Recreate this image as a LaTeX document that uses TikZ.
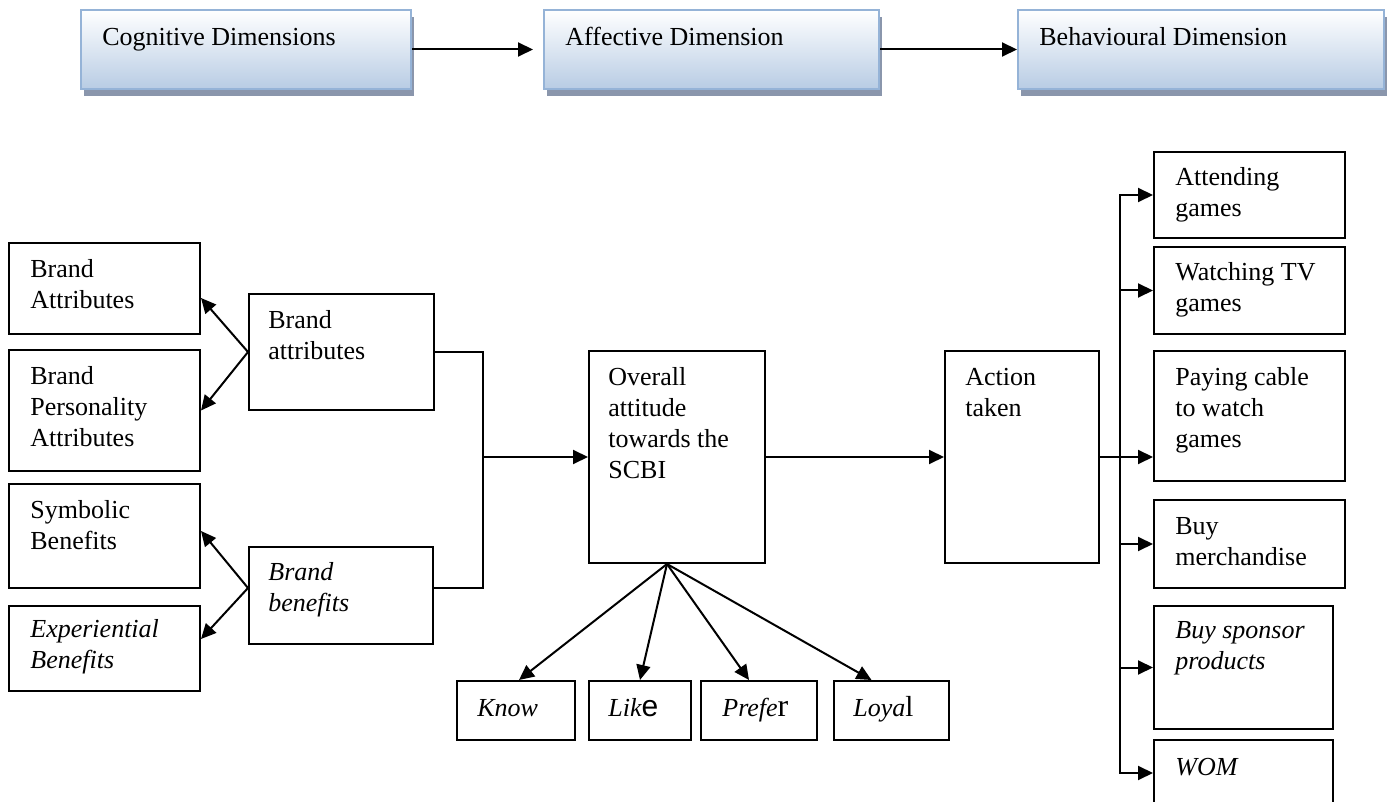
\documentclass[tikz,border=0pt]{standalone}
\usepackage{fontspec}
\setmainfont{Liberation Serif}
\newfontfamily\likesans{Liberation Sans}
\usetikzlibrary{positioning,arrows.meta,shadows}
\definecolor{dimBorder}{RGB}{149,179,215}
\definecolor{dimFill}{RGB}{184,204,228}
\definecolor{dimShadow}{RGB}{138,150,172}

\begin{document}
\begin{tikzpicture}[x=0.5pt, y=-0.5pt,
      box/.style={rectangle, draw, line width=1pt, anchor=north west, inner sep=0pt},
      dimbox/.style={rectangle, draw=dimBorder, line width=1pt, top color=white,
                     bottom color=dimFill, anchor=north west, inner sep=0pt,
                     minimum height=39.5pt,
                     drop shadow={shadow xshift=1.5pt, shadow yshift=-3.5pt,
                                  fill=dimShadow, opacity=1}},
      txt/.style={align=left, inner sep=0pt, font=\fontsize{13pt}{15.5pt}\selectfont},
      itxt/.style={txt, font=\fontsize{13pt}{15.5pt}\selectfont\itshape},
      arr/.style={-{Triangle[length=7.5pt,width=7pt]}, line width=1pt},
      link/.style={line width=1pt}]
      \useasboundingbox (0,0) rectangle (1389,802);
      \fill[white] (0,0) rectangle (1389,802);
      \clip (0,0) rectangle (1389,802);

      % dimensions
      \node[dimbox, minimum width=165pt] (cog) at (80,9) {};
      \node[txt, below right=7pt and 11pt of cog.north west] (cogtxt) {\strut Cognitive Dimensions};
      \node[dimbox, minimum width=167.5pt] (aff) at (543,9) {};
      \node[txt, below right=7pt and 11pt of aff.north west] (afftxt) {\strut Affective Dimension};
      \node[dimbox, minimum width=183pt] (beh) at (1017,9) {};
      \node[txt, below right=7pt and 11pt of beh.north west] (behtxt) {\strut Behavioural Dimension};
      \draw[arr] (cog.east) -- ([xshift=-5pt]aff.west);
      \draw[arr] (aff) -- (beh);

      % cognitive side
      \node[box, minimum width=95.5pt, minimum height=45.5pt] (brandA) at (8,242) {};
      \node[txt, below right=6.5pt and 11pt of brandA.north west] (brandAtxt) {\strut Brand\\Attributes};
      \node[box, minimum width=95.5pt, minimum height=60.5pt] (persA) at (8,349) {};
      \node[txt, below right=6.5pt and 11pt of persA.north west] (persAtxt) {\strut Brand\\Personality\\Attributes};
      \node[box, minimum width=95.5pt, minimum height=52pt] (symB) at (8,483) {};
      \node[txt, below right=6.5pt and 11pt of symB.north west] (symBtxt) {\strut Symbolic\\Benefits};
      \node[box, minimum width=95.5pt, minimum height=42.5pt] (expB) at (8,605) {};
      \node[itxt, below right=5pt and 11pt of expB.north west] (expBtxt) {\strut Experiential\\Benefits};

      \node[box, minimum width=92.5pt, minimum height=58pt] (attrs) at (248,293) {};
      \node[txt, below right=6.5pt and 10pt of attrs.north west] (attrstxt) {\strut Brand\\attributes};
      \node[box, minimum width=92pt, minimum height=48.5pt] (bens) at (248,546) {};
      \node[itxt, below right=6pt and 10pt of bens.north west] (benstxt) {\strut Brand\\benefits};

      \draw[arr] (attrs.west) -- ([yshift=-4.75pt]brandA.east);
      \draw[arr] (attrs.west) -- (persA.east);
      \draw[arr] ([yshift=3.75pt]bens.west) -- ([yshift=2.5pt]symB.east);
      \draw[arr] ([yshift=3.75pt]bens.west) -- ([yshift=4.75pt]expB.east);

      % affective side
      \node[box, minimum width=88pt, minimum height=106pt] (overall) at (588,350) {};
      \node[txt, below right=6.5pt and 10pt of overall.north west] (overalltxt) {\strut Overall\\attitude\\towards the\\SCBI};
      \coordinate (join) at (483,457);
      \draw[link] (attrs.east) -| (join) |- ([yshift=3.75pt]bens.east);
      \draw[arr] (join) -- (overall.west);

      \node[box, minimum width=59pt, minimum height=29.5pt] (know) at (456,680) {};
      \node[itxt, below right=7pt and 10.5pt of know.north west] (knowtxt) {\strut Know};
      \node[box, minimum width=51pt, minimum height=29.5pt] (like) at (588,680) {};
      \node[itxt, below right=7pt and 10pt of like.north west] (liketxt) {\strut Lik{\upshape\likesans\fontsize{15pt}{15.5pt}\selectfont e}};
      \node[box, minimum width=58pt, minimum height=29.5pt] (prefer) at (700,680) {};
      \node[itxt, below right=7pt and 11pt of prefer.north west] (prefertxt) {\strut Prefe{\upshape\fontsize{16pt}{15.5pt}\selectfont r}};
      \node[box, minimum width=57.5pt, minimum height=29.5pt] (loyal) at (833,680) {};
      \node[itxt, below right=7pt and 10pt of loyal.north west] (loyaltxt) {\strut Loya{\upshape\fontsize{14.5pt}{15.5pt}\selectfont l}};
      \draw[arr] ([xshift=-5pt]overall.south) -- ([xshift=1.5pt]know.north);
      \draw[arr] ([xshift=-5pt]overall.south) -- (like.north);
      \draw[arr] ([xshift=-5pt]overall.south) -- ([xshift=-5pt]prefer.north);
      \draw[arr] ([xshift=-5pt]overall.south) -- ([xshift=-10pt]loyal.north);

      % behavioural side
      \node[box, minimum width=77pt, minimum height=106pt] (action) at (944,350) {};
      \node[txt, below right=6.5pt and 10.5pt of action.north west] (actiontxt) {\strut Action\\taken};
      \draw[arr] (overall) -- (action);

      \node[box, minimum width=95.5pt, minimum height=43pt] (attend) at (1153,151) {};
      \node[txt, below right=6pt and 11pt of attend.north west] (attendtxt) {\strut Attending\\games};
      \node[box, minimum width=95.5pt, minimum height=43.5pt] (tvgames) at (1153,246) {};
      \node[txt, below right=6pt and 11pt of tvgames.north west] (tvgamestxt) {\strut Watching TV\\games};
      \node[box, minimum width=95.5pt, minimum height=65pt] (cable) at (1153,350) {};
      \node[txt, below right=6.5pt and 11pt of cable.north west] (cabletxt) {\strut Paying cable\\to watch\\games};
      \node[box, minimum width=95.5pt, minimum height=44pt] (merch) at (1153,499) {};
      \node[txt, below right=6.5pt and 11pt of merch.north west] (merchtxt) {\strut Buy\\merchandise};
      \node[box, minimum width=89.5pt, minimum height=61.5pt] (sponsor) at (1153,605) {};
      \node[itxt, below right=5.5pt and 11pt of sponsor.north west] (sponsortxt) {\strut Buy sponsor\\products};
      \node[box, minimum width=89.5pt, minimum height=33pt] (wom) at (1153,739) {};
      \node[itxt, below right=7pt and 11pt of wom.north west] (womtxt) {\strut WOM};

      \coordinate (trunk) at (1120,457);
      \draw[arr] (action.east) -- (action.east -| cable.west);
      \draw[arr] (wom.west -| trunk) |- (attend.west);
      \draw[arr] (attend.west -| trunk) |- (wom.west);
      \draw[arr] (tvgames.west -| trunk) -- (tvgames.west);
      \draw[arr] (merch.west -| trunk) -- (merch.west);
      \draw[arr] (sponsor.west -| trunk) -- (sponsor.west);
    \end{tikzpicture}
\end{document}
